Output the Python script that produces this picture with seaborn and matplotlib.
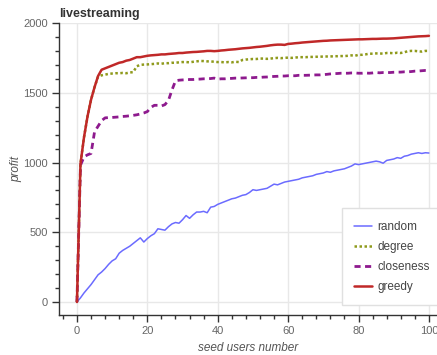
import matplotlib
matplotlib.use("Agg")
import matplotlib.pyplot as plt
import seaborn as sns
import numpy as np
from matplotlib.ticker import MultipleLocator

seeds = list(range(0, 101))

random_profit = [
    0, 30, 65, 95, 125, 160, 195, 215, 240, 270,
    295, 310, 350, 370, 385, 400, 420, 440, 460, 430,
    455, 475, 490, 525, 520, 515, 540, 560, 570, 565,
    590, 620, 600, 625, 645, 645, 650, 640, 680, 685,
    700, 710, 720, 730, 740, 745, 755, 765, 770, 785,
    805, 800, 805, 810, 815, 830, 845, 840, 850, 860,
    865, 870, 875, 880, 890, 895, 900, 905, 915, 920,
    925, 935, 930, 940, 945, 950, 955, 965, 975, 990,
    985, 990, 995, 1000, 1005, 1010, 1005, 995, 1015, 1020,
    1025, 1035, 1030, 1045, 1050, 1060, 1065, 1070, 1065, 1070,
    1068]

degree_profit = [
    0, 990, 1180, 1330, 1450, 1540, 1615, 1625, 1630, 1635,
    1638, 1640, 1640, 1642, 1640, 1645, 1648, 1690, 1700, 1702,
    1703, 1705, 1707, 1710, 1708, 1712, 1712, 1715, 1715, 1718,
    1720, 1720, 1718, 1722, 1725, 1728, 1727, 1725, 1725, 1722,
    1720, 1720, 1718, 1720, 1718, 1722, 1720, 1735, 1738, 1740,
    1742, 1742, 1745, 1745, 1743, 1745, 1748, 1750, 1748, 1750,
    1752, 1750, 1752, 1755, 1755, 1755, 1757, 1757, 1758, 1758,
    1760, 1760, 1760, 1762, 1762, 1763, 1763, 1765, 1768, 1765,
    1772, 1772, 1775, 1780, 1780, 1782, 1782, 1780, 1785, 1785,
    1783, 1787, 1785, 1790, 1798, 1800, 1800, 1797, 1795, 1800,
    1800]

closeness_profit = [
    0, 980, 1040, 1055, 1065, 1220, 1260, 1300, 1320, 1322,
    1323, 1325, 1327, 1330, 1332, 1335, 1338, 1342, 1348, 1355,
    1365, 1395, 1410, 1410, 1405, 1415, 1445, 1520, 1585, 1590,
    1592, 1593, 1595, 1595, 1597, 1598, 1600, 1600, 1602, 1605,
    1598, 1600, 1600, 1602, 1603, 1605, 1605, 1606, 1607, 1608,
    1608, 1610, 1610, 1612, 1613, 1615, 1617, 1618, 1620, 1620,
    1622, 1622, 1622, 1625, 1625, 1625, 1626, 1627, 1628, 1628,
    1630, 1632, 1635, 1637, 1638, 1640, 1640, 1640, 1642, 1642,
    1640, 1640, 1642, 1640, 1642, 1645, 1643, 1645, 1645, 1645,
    1647, 1648, 1648, 1650, 1650, 1652, 1655, 1656, 1658, 1660,
    1660]

greedy_profit = [
    0, 990, 1180, 1330, 1450, 1540, 1620, 1665, 1675, 1685,
    1695, 1705, 1715, 1720, 1730, 1735, 1745, 1755, 1755, 1760,
    1765, 1768, 1770, 1772, 1775, 1775, 1778, 1780, 1782, 1785,
    1785, 1788, 1790, 1792, 1793, 1795, 1797, 1800, 1800, 1798,
    1800, 1803, 1805, 1808, 1810, 1812, 1815, 1818, 1820, 1822,
    1825, 1828, 1830, 1833, 1836, 1840, 1843, 1845, 1845, 1843,
    1850, 1852, 1855, 1857, 1860, 1862, 1864, 1866, 1868, 1870,
    1872, 1873, 1875, 1876, 1877, 1878, 1879, 1880, 1881, 1882,
    1883, 1883, 1884, 1885, 1886, 1886, 1887, 1888, 1888, 1889,
    1890, 1892, 1894, 1896, 1898, 1900, 1902, 1904, 1905, 1906,
    1908]

sns.set_style("whitegrid")
plt.rcParams['font.family'] = ['Liberation Sans', 'DejaVu Sans']

fig = plt.figure(figsize=(4.37, 3.55), dpi=100)
ax = fig.add_axes([59 / 437, 40 / 355, (437 - 59) / 437, (315 - 23) / 355])

series = [
    ("random", random_profit, "#6b6bff", "-", 1.1),
    ("degree", degree_profit, "#8f9a1c", (0, (1, 1)), 1.8),
    ("closeness", closeness_profit, "#8e1a8e", (0, (2.2, 1.6)), 2.0),
    ("greedy", greedy_profit, "#c02828", "-", 1.8),
]
for name, vals, col, ls, lw in series:
    sns.lineplot(x=seeds, y=vals, ax=ax, color=col, linestyle=ls, linewidth=lw, label=name)

ax.set_xlim(-5.1, 102.3)
ax.set_ylim(-93, 2000)
ax.xaxis.set_major_locator(MultipleLocator(20))
ax.xaxis.set_minor_locator(MultipleLocator(4))
ax.yaxis.set_major_locator(MultipleLocator(500))
ax.yaxis.set_minor_locator(MultipleLocator(100))
ax.grid(True, which="major", color="#e8e8e8", linewidth=1)
ax.grid(False, which="minor")

for s in ["top", "right"]:
    ax.spines[s].set_visible(False)
for s in ["left", "bottom"]:
    ax.spines[s].set_color("#333333")
    ax.spines[s].set_linewidth(1)
ax.tick_params(which="major", direction="out", length=5, width=1, color="#333333",
               labelsize=8, labelcolor="#666666", left=True, bottom=True, pad=3)
ax.tick_params(which="minor", direction="out", length=3, width=1, color="#333333",
               left=True, bottom=True)

ax.set_title("livestreaming", loc="left", fontsize=9, fontweight="bold", color="#333333", pad=4)
ax.set_xlabel("seed users number", fontsize=8.5, fontstyle="italic", color="#555555", labelpad=4)
ax.set_ylabel("profit", fontsize=8.5, fontstyle="italic", color="#555555", labelpad=0.5)

leg = ax.legend(loc="lower right", bbox_to_anchor=(1.03, 0.013), fontsize=8.5, frameon=True,
                fancybox=False, framealpha=1, edgecolor="#e0e0e0", handlelength=1.5,
                handletextpad=0.5, labelspacing=0.68, borderpad=1.05)
for t in leg.get_texts():
    t.set_color("#444444")

fig.savefig("out.png", dpi=100)
